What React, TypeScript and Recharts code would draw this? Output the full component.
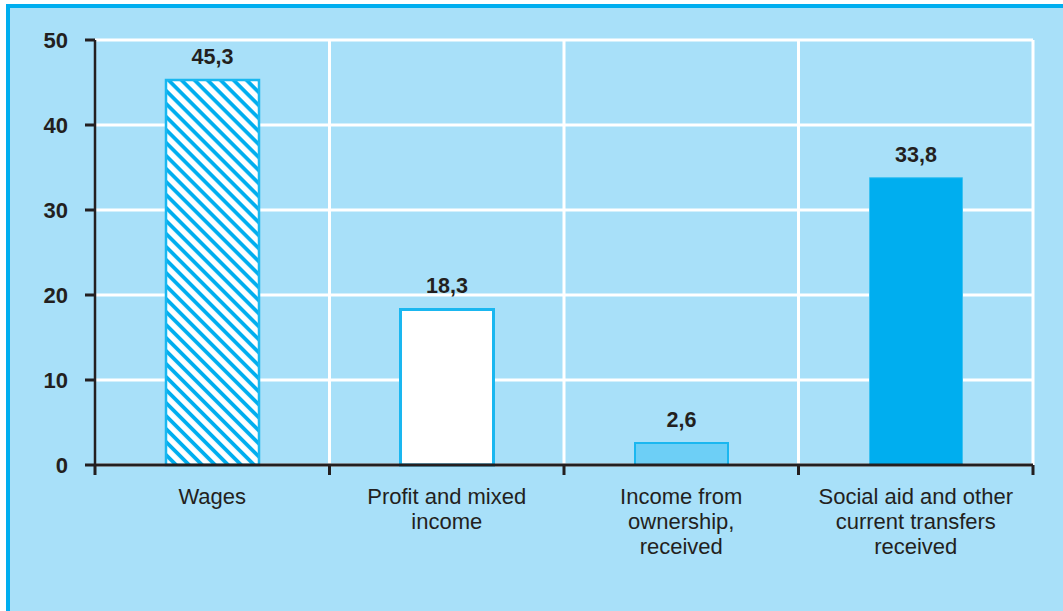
import { Bar, BarChart, Cell, CartesianGrid, LabelList, ReferenceLine, XAxis, YAxis } from 'recharts';

const categories = [
  ['Wages'],
  ['Profit and mixed', 'income'],
  ['Income from', 'ownership,', 'received'],
  ['Social aid and other', 'current transfers', 'received'],
];
const shares = [45.3, 18.3, 2.6, 33.8];
const yTicks = [0, 10, 20, 30, 40, 50];
const boundaries = [0, 1, 2, 3, 4];

const INK = '#231f20';
const BLUE = '#00aeef';
const EDGE = '#1ab7f0';
const BG = '#a8e0f9';

const fills = ['url(#hatch)', '#ffffff', '#6dcff6', BLUE];
const strokes = [EDGE, EDGE, EDGE, '#3cc1f1'];
const strokeWidths = [2.5, 3, 2, 1];

const data = shares.map((v, i) => ({ pos: i + 0.5, value: v, idx: i }));
const xTicks = [...boundaries, ...categories.map((_, i) => i + 0.5)].sort((a, b) => a - b);

const fmt = (v: number) => v.toFixed(1).replace('.', ',');

function XTick(props: any) {
  const { x, y, payload } = props;
  const v = payload.value as number;
  if (Number.isInteger(v)) {
    return <line x1={x} x2={x} y1={y} y2={y + 10} stroke={INK} strokeWidth={3} />;
  }
  const lines = categories[Math.floor(v)];
  return (
    <text x={x} y={y + 39} textAnchor="middle" fill={INK} fontSize={22}>
      {lines.map((l, i) => (
        <tspan key={i} x={x} dy={i === 0 ? 0 : 25}>
          {l}
        </tspan>
      ))}
    </text>
  );
}

export default function App() {
  return (
    <div style={{ position: 'absolute', left: 0, top: 0, width: 1063, height: 611, overflow: 'hidden', background: '#fff' }}>
      <div
        style={{
          position: 'absolute',
          left: 6,
          top: 4,
          width: 1080,
          height: 640,
          border: `4px solid ${BLUE}`,
          background: BG,
        }}
      />
      <div style={{ position: 'absolute', left: 0, top: 0, fontFamily: '"Liberation Sans", Arial, sans-serif' }}>
        <BarChart width={1063} height={611} data={data} margin={{ top: 40, right: 30, left: 0, bottom: 0 }}>
          <defs>
            <pattern id="hatch" patternUnits="userSpaceOnUse" width={9.2} height={9.2} patternTransform="rotate(45)">
              <rect x={0} y={0} width={9.2} height={9.2} fill="#ffffff" />
              <rect x={0} y={0} width={9.2} height={3.8} fill={BLUE} />
            </pattern>
          </defs>
          <CartesianGrid vertical={false} stroke="#ffffff" strokeWidth={3} />
          {boundaries.slice(1).map((b) => (
            <ReferenceLine key={b} x={b} stroke="#ffffff" strokeWidth={3} />
          ))}
          <XAxis
            dataKey="pos"
            type="number"
            domain={[0, 4]}
            ticks={xTicks}
            interval={0}
            height={146}
            tickSize={0}
            tickMargin={0}
            tickLine={false}
            axisLine={{ stroke: INK, strokeWidth: 3 }}
            tick={<XTick />}
          />
          <YAxis
            domain={[0, 50]}
            ticks={yTicks}
            width={95}
            tickSize={10}
            tickMargin={17}
            axisLine={{ stroke: INK, strokeWidth: 2.5 }}
            tickLine={{ stroke: INK, strokeWidth: 3 }}
            tick={{ fill: INK, fontSize: 22, fontWeight: 'bold' }}
          />
          <Bar dataKey="value" barSize={93} isAnimationActive={false}>
            {data.map((d) => (
              <Cell key={d.idx} fill={fills[d.idx]} stroke={strokes[d.idx]} strokeWidth={strokeWidths[d.idx]} />
            ))}
            <LabelList
              dataKey="value"
              position="top"
              offset={16}
              formatter={(v: any) => fmt(Number(v))}
              style={{ fill: INK, fontSize: 21.5, fontWeight: 'bold' }}
            />
          </Bar>
        </BarChart>
      </div>
    </div>
  );
}
